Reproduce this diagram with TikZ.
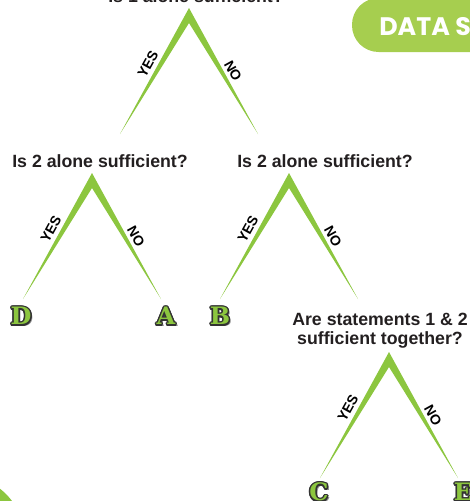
\documentclass[tikz,border=0pt]{standalone}
\usepackage{fontspec}
\setmainfont{Liberation Sans}
\newfontfamily\bannerfont{Poppins}
\newfontfamily\letterfont{DejaVu Serif}
\definecolor{armgreen}{HTML}{8CC63F}
\definecolor{pillgreen}{HTML}{A6CE4F}
\definecolor{inkgray}{HTML}{231F20}
\definecolor{rimgray}{HTML}{333333}
\tikzset{
  branch/.style={fill=armgreen},
  question/.style={font=\bfseries\fontsize{13.3}{14.3}\selectfont, text=inkgray, inner sep=0pt, align=center},
  yesno/.style={font=\bfseries\fontsize{10.5}{11}\selectfont, text=black, inner sep=0pt},
  answer/.style={font=\letterfont\bfseries\fontsize{18}{18}\selectfont, inner sep=0pt}
}
\begin{document}
\begin{tikzpicture}[x=0.75pt, y=-0.75pt, line join=round]
\useasboundingbox (0,0) rectangle (469,501);
\def\armw{69} \def\armh{126} \def\notch{15}
% banner and corner
\fill[pillgreen, rounded corners=20pt] (352,-2) rectangle (560,52);
\node[font=\bannerfont\bfseries\fontsize{19}{19}\selectfont, text=white, anchor=base west, inner sep=0pt] (banner) at (379,35) {DATA SUFFICIENCY};
\fill[armgreen] (-40,540) circle (65);
% questions
\node[question, anchor=base] (q1) at (196,2.5) {Is 1 alone sufficient?};
\node[question, anchor=base] (q2) at (100,167) {Is 2 alone sufficient?};
\node[question, anchor=base] (q3) at (325,167) {Is 2 alone sufficient?};
\node[question, anchor=north] (q4) at (380,313) {Are statements 1 \& 2\\sufficient together?};
% branches
\foreach \n/\x/\y in {t/189/8, l/92/173, r/289/173, b/389/352}{
  \coordinate (\n) at (\x,\y);
  \fill[branch] (\n) -- ++(-\armw,\armh) -- ++(\armw,-\armh+\notch) -- ++(\armw,\armh-\notch) -- cycle;
  \node[yesno, rotate=61] (yes\n) at ([shift={(-41,56)}]\n) {YES};
  \node[yesno, rotate=-61] (no\n) at ([shift={(44,63)}]\n) {NO};
}
% answers
\foreach \l/\x/\y in {D/21/316, A/166/316, B/220/316, C/319/492, E/463/492}{
  \node[answer, text=black!45] at ([shift={(1.6pt,-1.6pt)}]\x,\y) {\l};
  \foreach \a in {0,30,...,330} \node[answer, text=rimgray] at ([shift={(\a:1.1pt)}]\x,\y) {\l};
  \node[answer, text=armgreen] (\l) at (\x,\y) {\l};
}
\end{tikzpicture}
\end{document}
